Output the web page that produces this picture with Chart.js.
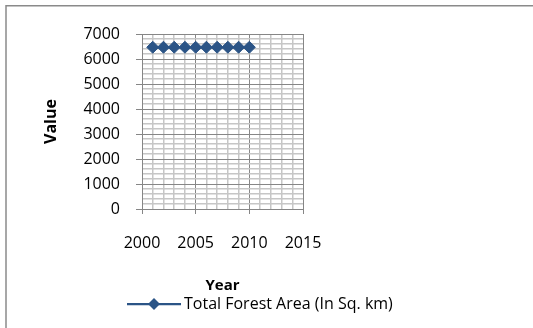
<!DOCTYPE html>
<html>
<head>
<meta charset="utf-8">
<script src="https://cdn.jsdelivr.net/npm/chart.js@4/dist/chart.umd.min.js"></script>
<style>
  html, body { margin: 0; padding: 0; background: #ffffff; }
  #wrap { width: 533px; height: 328px; position: relative; }
</style>
</head>
<body>
<div id="wrap"><canvas id="chart" width="533" height="328"></canvas></div>
<script>
// Forest area series
const years = [2001, 2002, 2003, 2004, 2005, 2006, 2007, 2008, 2009, 2010];
const forestArea = [6470, 6470, 6470, 6470, 6470, 6470, 6470, 6470, 6470, 6470];
const seriesLabel = 'Total Forest Area (In Sq. km)';
const xTickLabels = [2000, 2005, 2010, 2015];
const yTickLabels = [0, 1000, 2000, 3000, 4000, 5000, 6000, 7000];

const FONT = "'Open Sans', 'DejaVu Sans', sans-serif";
const SERIES_COLOR = '#2b5486';
const MAJOR_GRID = '#868686';
const MINOR_GRID = '#c6c6c6';

// Outer frame of the chart (top and left edges)
const framePlugin = {
  id: 'frame',
  afterDraw(chart) {
    const ctx = chart.ctx;
    ctx.save();
    ctx.strokeStyle = '#8a8a8a';
    ctx.lineWidth = 1.5;
    ctx.beginPath();
    ctx.moveTo(6, chart.height);
    ctx.lineTo(6, 5.75);
    ctx.lineTo(chart.width, 5.75);
    ctx.stroke();
    ctx.restore();
  }
};

// Legend entry: line with diamond marker, followed by the series name
const lineLegendPlugin = {
  id: 'lineLegend',
  afterDraw(chart) {
    const ctx = chart.ctx;
    const ds = chart.data.datasets[0];
    const y = 304;
    const x0 = 127, x1 = 181, xm = 154;
    ctx.save();
    ctx.strokeStyle = ds.borderColor;
    ctx.lineWidth = ds.borderWidth;
    ctx.beginPath();
    ctx.moveTo(x0, y);
    ctx.lineTo(x1, y);
    ctx.stroke();
    ctx.fillStyle = ds.pointBackgroundColor;
    const r = ds.pointRadius;
    ctx.beginPath();
    ctx.moveTo(xm, y - r);
    ctx.lineTo(xm + r, y);
    ctx.lineTo(xm, y + r);
    ctx.lineTo(xm - r, y);
    ctx.closePath();
    ctx.fill();
    ctx.fillStyle = '#000000';
    ctx.font = '16px ' + FONT;
    ctx.textBaseline = 'middle';
    ctx.textAlign = 'left';
    ctx.fillText(ds.label, x1 + 3, y);
    ctx.restore();
  }
};

const isMajor = (v, step) => Math.abs(v % step) < 1e-6;

new Chart(document.getElementById('chart'), {
  type: 'line',
  data: {
    datasets: [{
      label: seriesLabel,
      data: years.map((yr, i) => ({ x: yr, y: forestArea[i] })),
      borderColor: SERIES_COLOR,
      backgroundColor: SERIES_COLOR,
      borderWidth: 2.25,
      pointStyle: 'rectRot',
      pointRadius: 6,
      pointBorderWidth: 1,
      pointBackgroundColor: SERIES_COLOR,
      pointBorderColor: SERIES_COLOR,
      tension: 0,
      fill: false
    }]
  },
  options: {
    responsive: false,
    animation: false,
    devicePixelRatio: 1,
    layout: { padding: { left: 32, right: 230, top: 34, bottom: 33 } },
    plugins: {
      legend: { display: false },
      tooltip: { enabled: false }
    },
    scales: {
      x: {
        type: 'linear',
        min: xTickLabels[0],
        max: xTickLabels[xTickLabels.length - 1],
        border: { display: true, color: MAJOR_GRID, width: 1 },
        grid: {
          color: c => isMajor(c.tick.value, 5) ? MAJOR_GRID : MINOR_GRID,
          lineWidth: c => isMajor(c.tick.value, 5) ? 1 : 1.5,
          tickColor: c => isMajor(c.tick.value, 5) ? MAJOR_GRID : 'rgba(0,0,0,0)',
          tickLength: 5,
          drawTicks: true
        },
        ticks: {
          stepSize: 1,
          maxTicksLimit: 100,
          autoSkip: false,
          maxRotation: 0,
          padding: 20,
          color: '#000000',
          font: { family: FONT, size: 16 },
          callback: v => xTickLabels.includes(v) ? String(v) : ''
        },
        title: {
          display: true,
          text: 'Year',
          color: '#000000',
          font: { family: FONT, size: 15, weight: 'bold' },
          padding: { top: 24, bottom: 0 }
        },
        afterFit(scale) { scale.height = 86; }
      },
      y: {
        type: 'linear',
        min: yTickLabels[0],
        max: yTickLabels[yTickLabels.length - 1],
        border: { display: true, color: MAJOR_GRID, width: 1 },
        grid: {
          color: c => isMajor(c.tick.value, 1000) ? MAJOR_GRID : MINOR_GRID,
          lineWidth: c => isMajor(c.tick.value, 1000) ? 1 : 1.5,
          tickColor: c => isMajor(c.tick.value, 1000) ? MAJOR_GRID : 'rgba(0,0,0,0)',
          tickLength: 6,
          drawTicks: true
        },
        ticks: {
          stepSize: 200,
          maxTicksLimit: 100,
          autoSkip: false,
          padding: 16,
          color: '#000000',
          font: { family: FONT, size: 16 },
          callback: v => yTickLabels.includes(v) ? String(v) : ''
        },
        title: {
          display: true,
          text: 'Value',
          color: '#000000',
          font: { family: FONT, size: 16, weight: 'bold' },
          padding: { top: 10, bottom: 0 }
        },
        afterFit(scale) { scale.width = 110; }
      }
    }
  },
  plugins: [framePlugin, lineLegendPlugin]
});
</script>
</body>
</html>
